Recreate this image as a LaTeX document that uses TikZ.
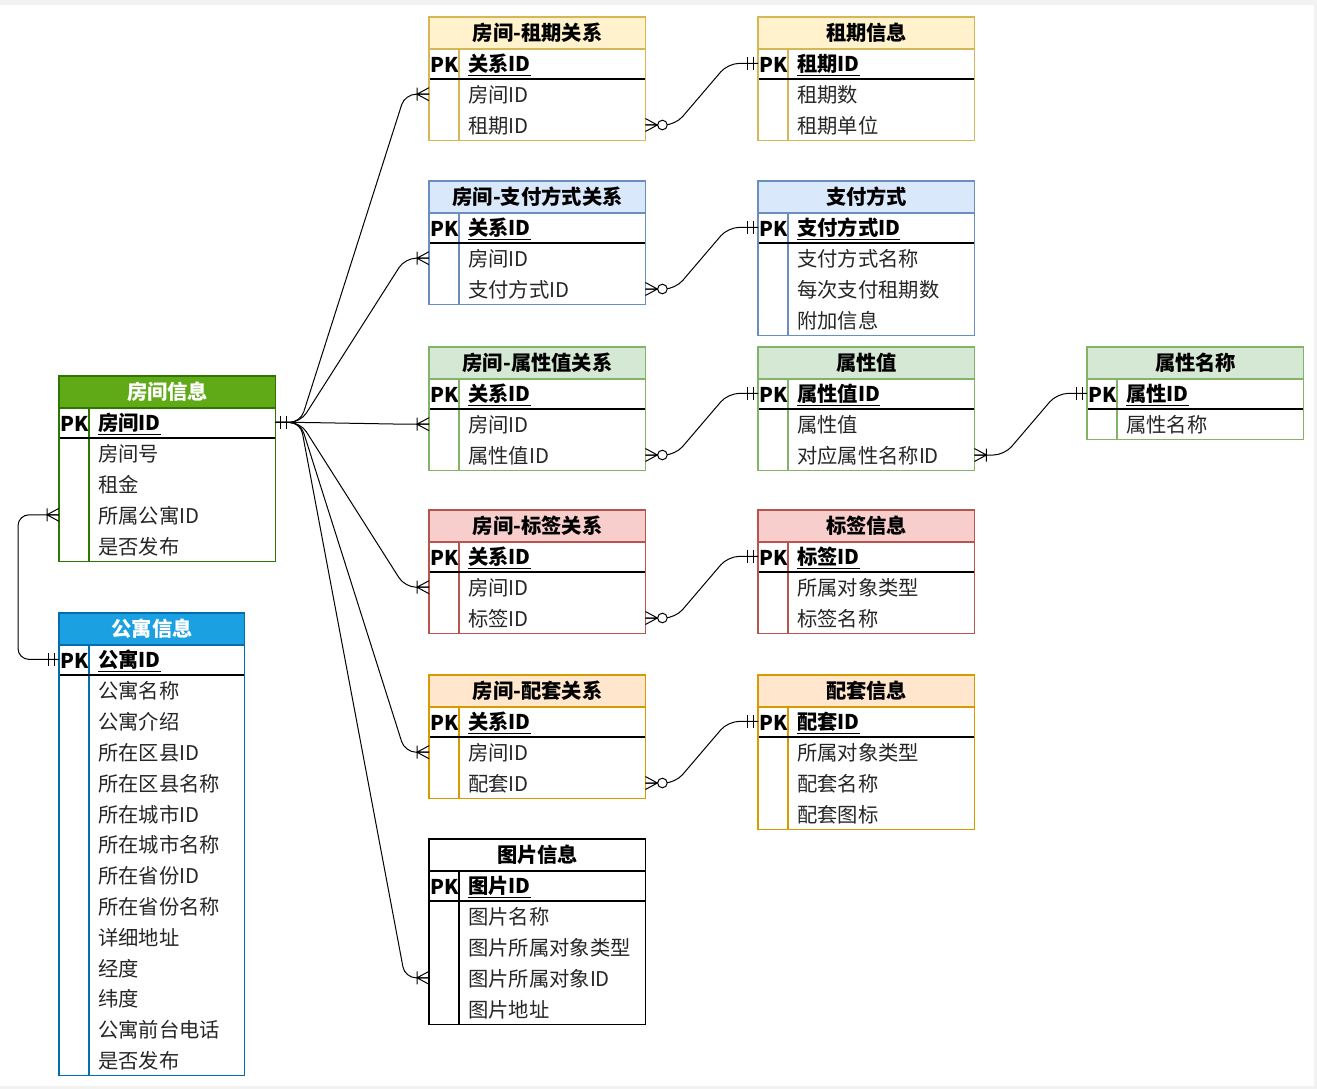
\documentclass[tikz,border=0pt]{standalone}
\usepackage{fontspec}
\setmainfont{Noto Sans CJK SC}
\definecolor{Froom}{HTML}{60A917}\definecolor{Sroom}{HTML}{2D7600}\colorlet{Troom}{white}
\definecolor{Fapt}{HTML}{1BA1E2}\definecolor{Sapt}{HTML}{006EAF}\colorlet{Tapt}{white}
\definecolor{Fyel}{HTML}{FFF2CC}\definecolor{Syel}{HTML}{D6B656}\colorlet{Tyel}{black}
\definecolor{Fblu}{HTML}{DAE8FC}\definecolor{Sblu}{HTML}{6C8EBF}\colorlet{Tblu}{black}
\definecolor{Fgrn}{HTML}{D5E8D4}\definecolor{Sgrn}{HTML}{82B366}\colorlet{Tgrn}{black}
\definecolor{Fred}{HTML}{F8CECC}\definecolor{Sred}{HTML}{B85450}\colorlet{Tred}{black}
\definecolor{Forg}{HTML}{FFE6CC}\definecolor{Sorg}{HTML}{D79B00}\colorlet{Torg}{black}
\definecolor{Fwht}{HTML}{FFFFFF}\definecolor{Swht}{HTML}{000000}\colorlet{Twht}{black}
\definecolor{frame}{HTML}{F2F2F2}
\newcommand\erfont{\fontsize{20.3}{24}\selectfont}
\tikzset{
  hdrbox/.style={minimum height=30.8, inner sep=0, line width=1.2pt, font=\erfont\bfseries},
  rowbox/.style={minimum height=30.8, inner sep=0},
  celltext/.style={inner sep=0, font=\erfont, text=black!85},
  conn/.style={draw=black, line width=1pt, rounded corners=11pt},
  mk/.style={draw=black, line width=1pt},
}
\newcommand\ertable[8]{%
  \node[hdrbox, fill=F#5, draw=S#5, text=T#5, minimum width=#4, anchor=north west] (#1) at (#2,#3) {#6};
  \node[rowbox, minimum width=#4, anchor=north west] (#1-pk) at (#2,#3+30.8) {};
  \node[celltext, font=\erfont\bfseries, text=black, anchor=west] (#1-pkl) at ([xshift=1,yshift=-1.5]#1-pk.west) {PK};
  \node[celltext, font=\erfont\bfseries, text=black, anchor=west] (#1-pkn) at ([xshift=39,yshift=-1.5]#1-pk.west) {\underline{#7}};
  \foreach \fld [count=\i] in {#8} {
    \node[rowbox, minimum width=#4, anchor=north west] (#1-\i) at (#2,#3+30.8+30.8*\i) {};
    \node[celltext, anchor=west] (#1-\i-t) at ([xshift=39,yshift=-1]#1-\i.west) {\fld};
    \xdef\erlast{\i}
  }
  \draw[draw=S#5, line width=1.2pt] ([xshift=30]#1-pk.north west) -- ([xshift=30]#1-\erlast.south west);
  \draw[line width=1.2pt] (#1-pk.south west) -- (#1-pk.south east);
  \draw[draw=S#5, line width=1.2pt] (#1.north west) rectangle (#1-\erlast.south east);
  \draw[draw=S#5, line width=1.2pt] (#1.south west) -- (#1.south east);
}
\newcommand\mkone[2]{\begin{scope}[shift={(#1)}, xscale=#2]\draw[mk] (5,-6.5)--(5,6.5) (11,-6.5)--(11,6.5);\end{scope}}
\newcommand\mkmany[2]{\begin{scope}[shift={(#1)}, xscale=#2]\draw[mk] (0,-6.5)--(12,0)--(0,6.5) (0,0)--(12,0) (12,-6.5)--(12,6.5);\end{scope}}
\newcommand\mkzmany[2]{\begin{scope}[shift={(#1)}, xscale=#2]\draw[mk] (0,-6.5)--(12,0)--(0,6.5) (0,0)--(12,0);\draw[mk, fill=white] (17,0) circle (4.8);\end{scope}}
\begin{document}
\begin{tikzpicture}[x=1pt, y=-1pt]
\useasboundingbox (0,0) rectangle (1317,1089);
\fill[frame] (0,0) rectangle (1317,1089);
\fill[white] (0,5) rectangle (1314,1086);

\ertable{room}{59}{376}{216}{room}{房间信息}{房间ID}{房间号,租金,所属公寓ID,是否发布}
\ertable{apt}{59}{613}{185}{apt}{公寓信息}{公寓ID}{公寓名称,公寓介绍,所在区县ID,所在区县名称,所在城市ID,所在城市名称,所在省份ID,所在省份名称,详细地址,经度,纬度,公寓前台电话,是否发布}
\ertable{rz}{429}{17}{216}{yel}{房间-租期关系}{关系ID}{房间ID,租期ID}
\ertable{lease}{758}{17}{216}{yel}{租期信息}{租期ID}{租期数,租期单位}
\ertable{rp}{429}{181}{216}{blu}{房间-支付方式关系}{关系ID}{房间ID,支付方式ID}
\ertable{pay}{758}{181}{216}{blu}{支付方式}{支付方式ID}{支付方式名称,每次支付租期数,附加信息}
\ertable{ra}{429}{347}{216}{grn}{房间-属性值关系}{关系ID}{房间ID,属性值ID}
\ertable{attv}{758}{347}{216}{grn}{属性值}{属性值ID}{属性值,对应属性名称ID}
\ertable{attn}{1087}{347}{216}{grn}{属性名称}{属性ID}{属性名称}
\ertable{rt}{429}{510}{216}{red}{房间-标签关系}{关系ID}{房间ID,标签ID}
\ertable{tag}{758}{510}{216}{red}{标签信息}{标签ID}{所属对象类型,标签名称}
\ertable{rf}{429}{675}{216}{org}{房间-配套关系}{关系ID}{房间ID,配套ID}
\ertable{fac}{758}{675}{216}{org}{配套信息}{配套ID}{所属对象类型,配套名称,配套图标}
\ertable{img}{429}{839}{216}{wht}{图片信息}{图片ID}{图片名称,图片所属对象类型,图片所属对象ID,图片地址}

% fan from room PK
\foreach \t in {rz-1,rp-1,ra-1,rt-1,rf-1,img-3}{
  \draw[conn] (room-pk.east) -- ++(25,0) -- ([xshift=-24]\t.west) -- (\t.west);
  \mkmany{\t.west}{-1}
}
\mkone{room-pk.east}{1}

% room -> apartment
\draw[conn] (room-3.west) -- ++(-41,0) |- (apt-pk.west);
\mkmany{room-3.west}{-1}
\mkone{apt-pk.west}{-1}

% relation -> entity
\draw[conn] (rz-2.east) -- ++(30,0) -- ([xshift=-30]lease-pk.west) -- (lease-pk.west);
\draw[conn] (rp-2.east) -- ++(30,0) -- ([xshift=-30]pay-pk.west) -- (pay-pk.west);
\draw[conn] (ra-2.east) -- ++(30,0) -- ([xshift=-30]attv-pk.west) -- (attv-pk.west);
\draw[conn] (rt-2.east) -- ++(30,0) -- ([xshift=-30]tag-pk.west) -- (tag-pk.west);
\draw[conn] (rf-2.east) -- ++(30,0) -- ([xshift=-30]fac-pk.west) -- (fac-pk.west);
\draw[conn] (attv-2.east) -- ++(30,0) -- ([xshift=-30]attn-pk.west) -- (attn-pk.west);
\mkzmany{rz-2.east}{1}\mkone{lease-pk.west}{-1}
\mkzmany{rp-2.east}{1}\mkone{pay-pk.west}{-1}
\mkzmany{ra-2.east}{1}\mkone{attv-pk.west}{-1}
\mkzmany{rt-2.east}{1}\mkone{tag-pk.west}{-1}
\mkzmany{rf-2.east}{1}\mkone{fac-pk.west}{-1}
\mkmany{attv-2.east}{1}\mkone{attn-pk.west}{-1}
\end{tikzpicture}
\end{document}
